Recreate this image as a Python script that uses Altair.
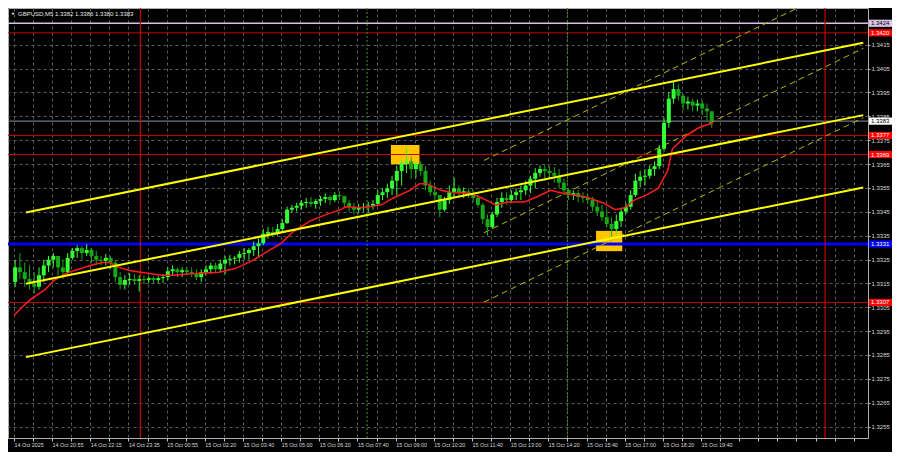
import altair as alt
import pandas as pd

# ---------------- layout constants ----------------
W, H = 860, 430
Y_MIN, Y_MAX = 1.32502, 1.34304
X_MIN, X_MAX = -0.4, 355.9

# ---------------- data ----------------
title_text = "GBPUSD,M5  1.3382 1.3386 1.3380 1.3383"

time_labels = ["14 Oct 2025", "14 Oct 20:55", "14 Oct 22:15", "14 Oct 23:35", "15 Oct 00:55",
               "15 Oct 02:20", "15 Oct 03:40", "15 Oct 05:00", "15 Oct 06:20", "15 Oct 07:40",
               "15 Oct 09:00", "15 Oct 10:20", "15 Oct 11:40", "15 Oct 13:00", "15 Oct 14:20",
               "15 Oct 15:40", "15 Oct 17:00", "15 Oct 18:20", "15 Oct 19:40"]

price_ticks = [1.3255, 1.3265, 1.3275, 1.3285, 1.3295, 1.3305, 1.3315, 1.3325, 1.3335,
               1.3345, 1.3355, 1.3365, 1.3375, 1.3385, 1.3395, 1.3405, 1.3415]

# 10-minute candles (two M5 bars each)
opens = [1.33156, 1.33217, 1.33197, 1.33168, 1.33148, 1.33136, 1.33184, 1.33225, 1.33249, 1.33265,
         1.33217, 1.33197, 1.33257, 1.33286, 1.33298, 1.33277, 1.33290, 1.33265, 1.33249, 1.33245,
         1.33257, 1.33237, 1.33176, 1.33144, 1.33164, 1.33168, 1.33160, 1.33168, 1.33164, 1.33172,
         1.33164, 1.33172, 1.33176, 1.33201, 1.33209, 1.33197, 1.33205,
         1.33197, 1.33193, 1.33176, 1.33197, 1.33209, 1.33225, 1.33209, 1.33233, 1.33249, 1.33253,
         1.33257, 1.33273, 1.33277, 1.33290, 1.33306, 1.33318, 1.33358, 1.33366, 1.33358, 1.33378,
         1.33403, 1.33459, 1.33467, 1.33475, 1.33487, 1.33491, 1.33483, 1.33495, 1.33504, 1.33512,
         1.33499, 1.33520, 1.33516, 1.33487, 1.33471, 1.33459, 1.33467,
         1.33471, 1.33475, 1.33483, 1.33520, 1.33532, 1.33548, 1.33580, 1.33621, 1.33653, 1.33661,
         1.33629, 1.33649, 1.33621, 1.33560, 1.33532, 1.33520, 1.33459, 1.33499, 1.33532, 1.33548,
         1.33528, 1.33536, 1.33520, 1.33508, 1.33479, 1.33419, 1.33386, 1.33439, 1.33491, 1.33508,
         1.33499, 1.33520, 1.33532, 1.33540, 1.33560, 1.33588, 1.33613,
         1.33629, 1.33621, 1.33613, 1.33601, 1.33572, 1.33540, 1.33520, 1.33528, 1.33512, 1.33508,
         1.33499, 1.33471, 1.33451, 1.33427, 1.33399, 1.33378, 1.33411, 1.33451, 1.33471, 1.33520,
         1.33580, 1.33597, 1.33601, 1.33629, 1.33641, 1.33714, 1.33823, 1.33924, 1.33964, 1.33936,
         1.33904, 1.33912, 1.33895, 1.33904, 1.33883, 1.33871]
highs = [1.33249, 1.33277, 1.33237, 1.33225, 1.33197, 1.33217, 1.33249, 1.33265, 1.33277, 1.33265,
         1.33249, 1.33277, 1.33298, 1.33310, 1.33306, 1.33314, 1.33298, 1.33286, 1.33265, 1.33273,
         1.33265, 1.33249, 1.33197, 1.33184, 1.33193, 1.33189, 1.33184, 1.33184, 1.33180, 1.33180,
         1.33180, 1.33189, 1.33217, 1.33225, 1.33217, 1.33217, 1.33217,
         1.33217, 1.33209, 1.33209, 1.33225, 1.33237, 1.33237, 1.33249, 1.33265, 1.33269, 1.33265,
         1.33286, 1.33298, 1.33298, 1.33326, 1.33338, 1.33378, 1.33386, 1.33386, 1.33399, 1.33419,
         1.33471, 1.33479, 1.33487, 1.33499, 1.33508, 1.33512, 1.33504, 1.33516, 1.33528, 1.33520,
         1.33532, 1.33536, 1.33516, 1.33499, 1.33487, 1.33483, 1.33487,
         1.33491, 1.33499, 1.33540, 1.33548, 1.33568, 1.33601, 1.33641, 1.33669, 1.33722, 1.33681,
         1.33661, 1.33661, 1.33641, 1.33580, 1.33560, 1.33520, 1.33512, 1.33560, 1.33593, 1.33560,
         1.33552, 1.33548, 1.33540, 1.33520, 1.33487, 1.33439, 1.33451, 1.33508, 1.33532, 1.33532,
         1.33540, 1.33548, 1.33560, 1.33580, 1.33601, 1.33633, 1.33645,
         1.33649, 1.33641, 1.33637, 1.33629, 1.33588, 1.33548, 1.33540, 1.33540, 1.33532, 1.33528,
         1.33512, 1.33499, 1.33479, 1.33459, 1.33427, 1.33439, 1.33467, 1.33487, 1.33540, 1.33609,
         1.33621, 1.33629, 1.33645, 1.33661, 1.33730, 1.33843, 1.33952, 1.33996, 1.33984, 1.33944,
         1.33932, 1.33924, 1.33920, 1.33916, 1.33904, 1.33871]
lows = [1.33136, 1.33168, 1.33136, 1.33124, 1.33108, 1.33124, 1.33156, 1.33197, 1.33217, 1.33184,
        1.33168, 1.33184, 1.33249, 1.33257, 1.33249, 1.33265, 1.33237, 1.33233, 1.33225, 1.33225,
        1.33209, 1.33156, 1.33125, 1.33125, 1.33144, 1.33144, 1.33116, 1.33148, 1.33152, 1.33148,
        1.33152, 1.33152, 1.33164, 1.33184, 1.33176, 1.33176, 1.33184,
        1.33176, 1.33164, 1.33156, 1.33184, 1.33189, 1.33193, 1.33197, 1.33189, 1.33225, 1.33229,
        1.33237, 1.33249, 1.33249, 1.33265, 1.33257, 1.33310, 1.33338, 1.33346, 1.33350, 1.33370,
        1.33399, 1.33447, 1.33451, 1.33459, 1.33467, 1.33471, 1.33463, 1.33475, 1.33487, 1.33479,
        1.33491, 1.33499, 1.33471, 1.33451, 1.33439, 1.33443, 1.33451,
        1.33447, 1.33459, 1.33475, 1.33499, 1.33508, 1.33520, 1.33520, 1.33560, 1.33613, 1.33588,
        1.33593, 1.33601, 1.33540, 1.33516, 1.33499, 1.33427, 1.33451, 1.33483, 1.33512, 1.33508,
        1.33508, 1.33508, 1.33491, 1.33467, 1.33399, 1.33350, 1.33378, 1.33427, 1.33467, 1.33479,
        1.33487, 1.33499, 1.33499, 1.33520, 1.33528, 1.33548, 1.33597,
        1.33580, 1.33588, 1.33572, 1.33548, 1.33520, 1.33499, 1.33499, 1.33491, 1.33487, 1.33483,
        1.33451, 1.33431, 1.33411, 1.33386, 1.33346, 1.33354, 1.33386, 1.33439, 1.33459, 1.33512,
        1.33552, 1.33560, 1.33588, 1.33601, 1.33629, 1.33702, 1.33802, 1.33904, 1.33916, 1.33875,
        1.33879, 1.33871, 1.33871, 1.33855, 1.33835, 1.33802]
closes = [1.33217, 1.33197, 1.33168, 1.33148, 1.33136, 1.33184, 1.33225, 1.33249, 1.33265, 1.33217,
          1.33197, 1.33257, 1.33286, 1.33298, 1.33277, 1.33290, 1.33265, 1.33249, 1.33245, 1.33257,
          1.33237, 1.33176, 1.33144, 1.33164, 1.33168, 1.33160, 1.33168, 1.33164, 1.33172, 1.33164,
          1.33172, 1.33176, 1.33201, 1.33209, 1.33197, 1.33205, 1.33197,
          1.33193, 1.33176, 1.33197, 1.33209, 1.33225, 1.33209, 1.33233, 1.33249, 1.33253, 1.33257,
          1.33273, 1.33277, 1.33290, 1.33306, 1.33318, 1.33358, 1.33366, 1.33358, 1.33378, 1.33403,
          1.33459, 1.33467, 1.33475, 1.33487, 1.33491, 1.33483, 1.33495, 1.33504, 1.33512, 1.33499,
          1.33520, 1.33516, 1.33487, 1.33471, 1.33459, 1.33467, 1.33471,
          1.33475, 1.33483, 1.33520, 1.33532, 1.33548, 1.33580, 1.33621, 1.33653, 1.33661, 1.33629,
          1.33649, 1.33621, 1.33560, 1.33532, 1.33520, 1.33459, 1.33499, 1.33532, 1.33548, 1.33528,
          1.33536, 1.33520, 1.33508, 1.33479, 1.33419, 1.33386, 1.33439, 1.33491, 1.33508, 1.33499,
          1.33520, 1.33532, 1.33540, 1.33560, 1.33588, 1.33613, 1.33629,
          1.33621, 1.33613, 1.33601, 1.33572, 1.33540, 1.33520, 1.33528, 1.33512, 1.33508, 1.33499,
          1.33471, 1.33451, 1.33427, 1.33399, 1.33378, 1.33411, 1.33451, 1.33471, 1.33520, 1.33580,
          1.33597, 1.33601, 1.33629, 1.33641, 1.33714, 1.33823, 1.33924, 1.33964, 1.33936, 1.33904,
          1.33912, 1.33895, 1.33904, 1.33883, 1.33871, 1.33831]

# moving average (red)
ma_bars = [0, 3, 7, 13, 17, 22, 27, 32, 37, 40, 44, 48, 53, 62, 67, 73, 86, 93, 100, 105, 112, 117,
           124, 131, 137, 139, 146, 154, 159, 166, 170, 173, 179, 183, 191, 196, 202, 207, 214, 219,
           225, 230, 240, 247, 252, 256, 260, 265, 270, 274, 276, 282, 287, 293]
ma_values = [1.33015, 1.33047, 1.33083, 1.33124, 1.33164, 1.33193, 1.33209, 1.33225, 1.33237, 1.33237,
             1.33217, 1.33205, 1.33197, 1.33184, 1.33184, 1.33189, 1.33197, 1.33213, 1.33245, 1.33277,
             1.33318, 1.33366, 1.33411, 1.33439, 1.33459, 1.33471, 1.33467, 1.33479, 1.33508, 1.33540,
             1.33568, 1.33568, 1.33540, 1.33532, 1.33528, 1.33508, 1.33479, 1.33491, 1.33491, 1.33512,
             1.33540, 1.33528, 1.33512, 1.33487, 1.33459, 1.33467, 1.33499, 1.33520, 1.33548, 1.33621,
             1.33714, 1.33770, 1.33802, 1.33823]

# yellow trend channel (solid)
trend_b0 = [5, 5, 5]
trend_p0 = [1.33447, 1.33148, 1.32841]
trend_b1 = [356, 356, 356]
trend_p1 = [1.34158, 1.33855, 1.33552]

# dashed channel
dchan_b0 = [197, 197, 197]
dchan_p0 = [1.33665, 1.33362, 1.33071]
dchan_b1 = [356, 356, 356]
dchan_p1 = [1.34438, 1.34135, 1.33844]

# horizontal levels
level_prices = [1.3424, 1.3420, 1.3383, 1.3377, 1.3369, 1.33315, 1.3307]
level_labels = ["1.3424", "1.3420", "1.3383", "1.3377", "1.3369", "1.3331", "1.3307"]
level_colors = ["#d8c2e2", "#c80000", "#8c96a4", "#c80000", "#c80000", "#0000ff", "#c80000"]
level_widths = [1.5, 1, 1, 1, 1, 3, 1]
tag_bg = ["#d8c2e2", "#ff0000", "#ffffff", "#ff0000", "#ff0000", "#0000ff", "#ff0000"]
tag_fg = ["#000000", "#ffffff", "#000000", "#ffffff", "#ffffff", "#ffffff", "#ffffff"]

# vertical lines
red_vbars = [53, 340]
green_vbars = [148, 232]

# highlight boxes
box_b0 = [158, 244]
box_b1 = [170, 255]
box_lo = [1.33649, 1.33285]
box_hi = [1.33730, 1.33370]

# ---------------- frames ----------------
n = len(closes)
candles = pd.DataFrame({"bar": [2 * i + 0.5 for i in range(n)], "open": opens,
                        "high": highs, "low": lows, "close": closes})
ma_df = pd.DataFrame({"bar": ma_bars, "ma": ma_values})
trend_df = pd.DataFrame({"b0": trend_b0, "p0": trend_p0, "b1": trend_b1, "p1": trend_p1})
dchan_df = pd.DataFrame({"b0": dchan_b0, "p0": dchan_p0, "b1": dchan_b1, "p1": dchan_p1})
half = 3.6 * (Y_MAX - Y_MIN) / H
levels_df = pd.DataFrame({"price": level_prices, "label": level_labels, "color": level_colors,
                          "w": level_widths, "bg": tag_bg, "fg": tag_fg})
levels_df["lo"] = levels_df["price"] - half
levels_df["hi"] = levels_df["price"] + half
red_df = pd.DataFrame({"bar": red_vbars})
green_df = pd.DataFrame({"bar": green_vbars})
box_df = pd.DataFrame({"b0": box_b0, "b1": box_b1, "lo": box_lo, "hi": box_hi})
title_df = pd.DataFrame({"t": [title_text]})

# ---------------- axes ----------------
labels_js = "[" + ",".join("'" + s + "'" for s in time_labels) + "]"
x_axis = alt.Axis(orient="bottom", values=list(range(0, 353, 8)),
                  labelExpr=f"(datum.value % 16 === 0 && datum.value <= 288) ? {labels_js}[datum.value / 16] : ''",
                  labelAlign="left", labelBaseline="top", labelPadding=1, tickSize=3,
                  tickColor="#c8c8c8", labelColor="#d8d8d8", labelFontSize=5.4,
                  labelFont="Liberation Sans", labelOverlap=False, labelFlush=False,
                  domain=False, grid=True, gridColor="#5a5a5a", gridDash=[3, 3], gridWidth=1,
                  title=None)
y_axis = alt.Axis(orient="right", values=price_ticks, format=".4f",
                  labelAlign="left", labelBaseline="middle", labelPadding=1, tickSize=2,
                  tickColor="#c8c8c8", labelColor="#d8d8d8", labelFontSize=6,
                  labelFont="Liberation Sans", labelOverlap=False, labelFlush=False,
                  domain=False, grid=True, gridColor="#5a5a5a", gridDash=[3, 3], gridWidth=1,
                  title=None)


def X(field):
    return alt.X(f"{field}:Q", scale=alt.Scale(domain=[X_MIN, X_MAX], nice=False, zero=False),
                 axis=x_axis, title=None)


def Y(field):
    return alt.Y(f"{field}:Q", scale=alt.Scale(domain=[Y_MIN, Y_MAX], nice=False, zero=False),
                 axis=y_axis, title=None)


UP, DOWN = "#35ff35", "#17a817"
cond = alt.condition("datum.close >= datum.open", alt.value(UP), alt.value(DOWN))

boxes = alt.Chart(box_df).mark_rect(color="#ffc600").encode(
    x=X("b0"), x2="b1:Q", y=Y("lo"), y2="hi:Q")

hlines = alt.Chart(levels_df).mark_rule().encode(
    y=Y("price"), color=alt.Color("color:N", scale=None),
    strokeWidth=alt.StrokeWidth("w:Q", scale=None))

vred = alt.Chart(red_df).mark_rule(color="#c80000", strokeWidth=1.2).encode(x=X("bar"))
vgreen = alt.Chart(green_df).mark_rule(color="#3f7a26", strokeWidth=1.2, strokeDash=[2, 2]).encode(x=X("bar"))

dashed = alt.Chart(dchan_df).mark_rule(color="#b8b800", strokeWidth=1, strokeDash=[6, 4], clip=True).encode(
    x=X("b0"), x2="b1:Q", y=Y("p0"), y2="p1:Q")

wicks = alt.Chart(candles).mark_rule(strokeWidth=1).encode(
    x=X("bar"), y=Y("low"), y2="high:Q", color=cond)
bodies = alt.Chart(candles).mark_bar(size=4).encode(
    x=X("bar"), y=Y("open"), y2="close:Q", color=cond)

ma = alt.Chart(ma_df).mark_line(color="#ff1c1c", strokeWidth=1.5).encode(x=X("bar"), y=Y("ma"))

trend = alt.Chart(trend_df).mark_rule(color="#ffff00", strokeWidth=2, clip=True).encode(
    x=X("b0"), x2="b1:Q", y=Y("p0"), y2="p1:Q")

tag_rect = alt.Chart(levels_df).mark_rect().encode(
    x=alt.value(W + 1), x2=alt.value(W + 24), y=Y("lo"), y2="hi:Q",
    color=alt.Color("bg:N", scale=None))
tag_text = alt.Chart(levels_df).mark_text(align="left", baseline="middle", fontSize=6,
                                          font="Liberation Sans").encode(
    x=alt.value(W + 3), y=Y("price"), text="label:N", color=alt.Color("fg:N", scale=None))

title_tri = alt.Chart(title_df).mark_point(shape="triangle-down", filled=True, size=10,
                                           color="#e0e0e0", opacity=1).encode(
    x=alt.value(5), y=alt.value(6))
title_txt = alt.Chart(title_df).mark_text(align="left", baseline="middle", fontSize=6,
                                          font="Liberation Sans", color="#e8e8e8").encode(
    x=alt.value(10), y=alt.value(6), text="t:N")

chart = alt.layer(boxes, hlines, vred, vgreen, dashed, wicks, bodies, ma, trend,
                  tag_rect, tag_text, title_tri, title_txt).properties(
    width=W, height=H,
    padding={"left": 0, "top": 0, "right": 24, "bottom": 14},
    autosize=alt.AutoSizeParams(type="none"),
).configure(background="#000000", font="Liberation Sans").configure_view(
    stroke="#b0b0b0", strokeWidth=1)

chart.save("out.html", embed_options={"renderer": "svg", "actions": False})
